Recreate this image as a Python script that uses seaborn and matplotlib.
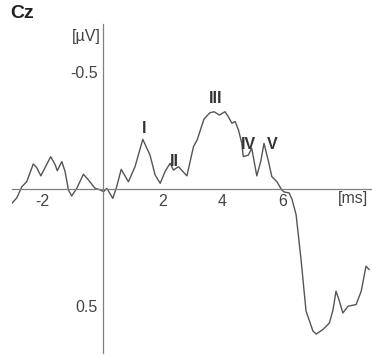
import matplotlib
matplotlib.use("Agg")
import matplotlib.pyplot as plt
import seaborn as sns
import pandas as pd

# Grand-average waveform at Cz (negative up)
time_ms = [-3.02, -2.86, -2.69, -2.53, -2.31, -2.19, -2.06, -1.73, -1.58, -1.51,
           -1.36, -1.25, -1.14, -1.03, -0.86, -0.64, -0.47, -0.25, -0.08, 0.03,
           0.14, 0.34, 0.47, 0.62, 0.86, 1.08, 1.34, 1.58, 1.75, 1.92,
           2.08, 2.25, 2.36, 2.53, 2.81, 3.03, 3.15, 3.38, 3.58, 3.72,
           3.89, 4.08, 4.19, 4.31, 4.42, 4.53, 4.64, 4.69, 4.86, 4.97,
           5.14, 5.27, 5.38, 5.53, 5.64, 5.81, 5.97, 6.05, 6.22, 6.32,
           6.45, 6.62, 6.78, 7.01, 7.12, 7.34, 7.56, 7.68, 7.78, 7.88,
           8.01, 8.18, 8.45, 8.62, 8.78, 8.89]
amplitude_uv = [0.061, 0.038, -0.010, -0.031, -0.107, -0.090, -0.056, -0.138, -0.103, -0.078,
                -0.117, -0.074, 0.004, 0.030, -0.003, -0.063, -0.038, -0.003, 0.004, 0.012,
                -0.003, 0.040, -0.010, -0.084, -0.031, -0.095, -0.212, -0.145, -0.060, -0.024,
                -0.074, -0.110, -0.081, -0.095, -0.056, -0.181, -0.209, -0.299, -0.326, -0.330,
                -0.316, -0.330, -0.309, -0.281, -0.288, -0.252, -0.195, -0.138, -0.145, -0.174,
                -0.056, -0.117, -0.195, -0.117, -0.053, -0.031, 0.004, 0.013, 0.017, 0.047,
                0.110, 0.308, 0.521, 0.607, 0.620, 0.601, 0.573, 0.517, 0.437, 0.474,
                0.530, 0.501, 0.494, 0.437, 0.330, 0.345]

# Wave labels and where they sit
wave_labels = ["I", "II", "III", "IV", "V"]
wave_t = [1.39, 2.38, 3.78, 4.86, 5.64]
wave_v = [-0.258, -0.117, -0.387, -0.188, -0.188]

x_ticks = [-2, 2, 4, 6, 8]
x_tick_labels = ["-2", "2", "4", "6", ""]
y_ticks = [-0.5, 0.5]
y_tick_labels = ["-0.5", "0.5"]

sns.set_style("white")
plt.rcParams["font.family"] = ["Liberation Sans", "DejaVu Sans"]

fig = plt.figure(figsize=(3.72, 3.56), dpi=100)
ax = fig.add_axes([12 / 372, 1 - 353 / 356, 1 - 12 / 372, (353 - 24) / 356])

df = pd.DataFrame({"t": time_ms, "v": amplitude_uv})
sns.lineplot(data=df, x="t", y="v", ax=ax, color="#555555", linewidth=1.0)

ax.set_xlim(-3.02, 8.98)
ax.set_ylim(0.701, -0.705)

for side in ("top", "right"):
    ax.spines[side].set_visible(False)
ax.spines["left"].set_position(("data", 0))
ax.spines["bottom"].set_position(("data", 0))
for side in ("left", "bottom"):
    ax.spines[side].set_color("#808080")
    ax.spines[side].set_linewidth(0.9)

ax.set_xticks(x_ticks)
ax.set_xticklabels(x_tick_labels)
ax.set_yticks(y_ticks)
ax.set_yticklabels(y_tick_labels)
ax.tick_params(axis="both", length=2, width=0.8, color="#808080",
               labelsize=11.5, labelcolor="#444444", pad=1.5)
ax.set_xlabel("")
ax.set_ylabel("")

# Unit labels at the axis ends
ax.text(8.36, 0.010, "[ms]", ha="center", va="top", fontsize=11.5, color="#444444")
ax.text(-0.05, -0.65, "[µV]", ha="right", va="center", fontsize=11.5, color="#444444")

for lab, t, v in zip(wave_labels, wave_t, wave_v):
    ax.text(t, v, lab, ha="center", va="center", fontsize=11.5,
            fontweight="bold", color="#333333")

fig.text(10 / 372, 1 - 13 / 356, "Cz", ha="left", va="center", fontsize=14,
         fontweight="bold", color="#222222")

fig.savefig("out.png", dpi=100)
